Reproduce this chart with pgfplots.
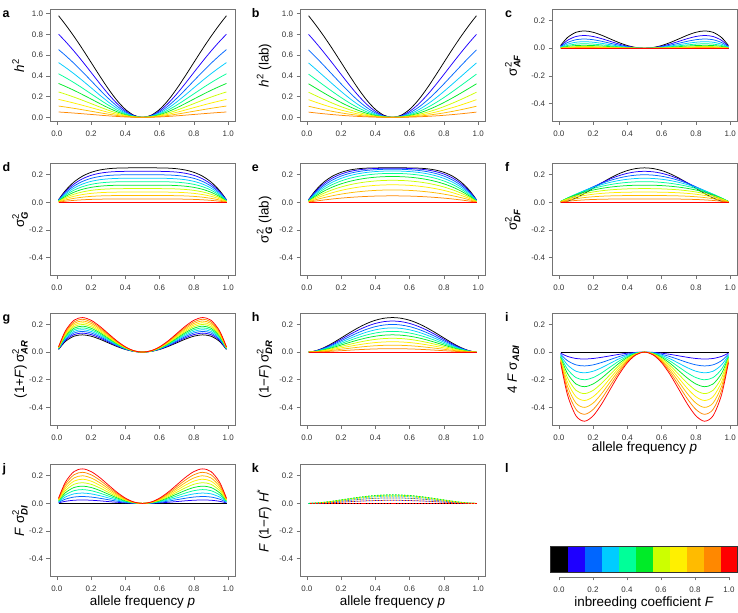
\documentclass[border=0pt]{standalone}
\usepackage{fontspec}
\setmainfont{Liberation Sans}
\usepackage{amsmath}
\usepackage{pgfplots}
\usepackage{pgfplotstable}
\pgfplotsset{compat=1.18}

\definecolor{cF0}{RGB}{0,0,0}
\definecolor{cF1}{RGB}{30,0,255}
\definecolor{cF2}{RGB}{0,102,255}
\definecolor{cF3}{RGB}{0,204,255}
\definecolor{cF4}{RGB}{0,255,153}
\definecolor{cF5}{RGB}{0,235,40}
\definecolor{cF6}{RGB}{204,255,0}
\definecolor{cF7}{RGB}{255,240,0}
\definecolor{cF8}{RGB}{255,187,0}
\definecolor{cF9}{RGB}{255,136,0}
\definecolor{cF10}{RGB}{255,0,0}

% h^2
\pgfplotstableread{
p c0 c1 c2 c3 c4 c5 c6 c7 c8 c9
0.01 0.9798 0.8016 0.6532 0.5276 0.4199 0.3266 0.2450 0.1729 0.1089 0.0516
0.05 0.8950 0.7323 0.5967 0.4819 0.3836 0.2983 0.2238 0.1579 0.0994 0.0471
0.10 0.7805 0.6386 0.5203 0.4203 0.3345 0.2602 0.1951 0.1377 0.0867 0.0411
0.15 0.6577 0.5381 0.4385 0.3542 0.2819 0.2192 0.1644 0.1161 0.0731 0.0346
0.20 0.5294 0.4332 0.3529 0.2851 0.2269 0.1765 0.1324 0.0934 0.0588 0.0279
0.25 0.4000 0.3273 0.2667 0.2154 0.1714 0.1333 0.1000 0.0706 0.0444 0.0211
0.30 0.2759 0.2257 0.1839 0.1486 0.1182 0.0920 0.0690 0.0487 0.0307 0.0145
0.35 0.1651 0.1351 0.1101 0.0889 0.0708 0.0550 0.0413 0.0291 0.0183 0.0087
0.40 0.0769 0.0629 0.0513 0.0414 0.0330 0.0256 0.0192 0.0136 0.0085 0.0040
0.45 0.0198 0.0162 0.0132 0.0107 0.0085 0.0066 0.0050 0.0035 0.0022 0.0010
0.50 0 0 0 0 0 0 0 0 0 0
0.55 0.0198 0.0162 0.0132 0.0107 0.0085 0.0066 0.0050 0.0035 0.0022 0.0010
0.60 0.0769 0.0629 0.0513 0.0414 0.0330 0.0256 0.0192 0.0136 0.0085 0.0040
0.65 0.1651 0.1351 0.1101 0.0889 0.0708 0.0550 0.0413 0.0291 0.0183 0.0087
0.70 0.2759 0.2257 0.1839 0.1486 0.1182 0.0920 0.0690 0.0487 0.0307 0.0145
0.75 0.4000 0.3273 0.2667 0.2154 0.1714 0.1333 0.1000 0.0706 0.0444 0.0211
0.80 0.5294 0.4332 0.3529 0.2851 0.2269 0.1765 0.1324 0.0934 0.0588 0.0279
0.85 0.6577 0.5381 0.4385 0.3542 0.2819 0.2192 0.1644 0.1161 0.0731 0.0346
0.90 0.7805 0.6386 0.5203 0.4203 0.3345 0.2602 0.1951 0.1377 0.0867 0.0411
0.95 0.8950 0.7323 0.5967 0.4819 0.3836 0.2983 0.2238 0.1579 0.0994 0.0471
0.99 0.9798 0.8016 0.6532 0.5276 0.4199 0.3266 0.2450 0.1729 0.1089 0.0516
}\tabA

% h^2 (lab)
\pgfplotstableread{
p c0 c1 c2 c3 c4 c5 c6 c7 c8 c9
0.01 0.9798 0.8000 0.6506 0.5244 0.4166 0.3233 0.2420 0.1705 0.1071 0.0506
0.05 0.8950 0.7247 0.5844 0.4672 0.3681 0.2835 0.2105 0.1471 0.0917 0.0430
0.10 0.7805 0.6249 0.4984 0.3943 0.3075 0.2344 0.1724 0.1194 0.0738 0.0343
0.15 0.6577 0.5203 0.4104 0.3212 0.2479 0.1872 0.1364 0.0936 0.0574 0.0265
0.20 0.5294 0.4137 0.3226 0.2498 0.1909 0.1429 0.1032 0.0703 0.0427 0.0196
0.25 0.4000 0.3087 0.2381 0.1825 0.1382 0.1026 0.0735 0.0497 0.0300 0.0137
0.30 0.2759 0.2105 0.1606 0.1220 0.0917 0.0675 0.0481 0.0323 0.0194 0.0088
0.35 0.1651 0.1247 0.0943 0.0711 0.0531 0.0388 0.0275 0.0184 0.0110 0.0050
0.40 0.0769 0.0576 0.0433 0.0324 0.0241 0.0175 0.0124 0.0082 0.0049 0.0022
0.45 0.0198 0.0148 0.0110 0.0082 0.0061 0.0044 0.0031 0.0021 0.0012 0.0006
0.50 0 0 0 0 0 0 0 0 0 0
0.55 0.0198 0.0148 0.0110 0.0082 0.0061 0.0044 0.0031 0.0021 0.0012 0.0006
0.60 0.0769 0.0576 0.0433 0.0324 0.0241 0.0175 0.0124 0.0082 0.0049 0.0022
0.65 0.1651 0.1247 0.0943 0.0711 0.0531 0.0388 0.0275 0.0184 0.0110 0.0050
0.70 0.2759 0.2105 0.1606 0.1220 0.0917 0.0675 0.0481 0.0323 0.0194 0.0088
0.75 0.4000 0.3087 0.2381 0.1825 0.1382 0.1026 0.0735 0.0497 0.0300 0.0137
0.80 0.5294 0.4137 0.3226 0.2498 0.1909 0.1429 0.1032 0.0703 0.0427 0.0196
0.85 0.6577 0.5203 0.4104 0.3212 0.2479 0.1872 0.1364 0.0936 0.0574 0.0265
0.90 0.7805 0.6249 0.4984 0.3943 0.3075 0.2344 0.1724 0.1194 0.0738 0.0343
0.95 0.8950 0.7247 0.5844 0.4672 0.3681 0.2835 0.2105 0.1471 0.0917 0.0430
0.99 0.9798 0.8000 0.6506 0.5244 0.4166 0.3233 0.2420 0.1705 0.1071 0.0506
}\tabB

% sigma^2_AF
\pgfplotstableread{
p c0 c1 c2 c3 c4 c5 c6 c7 c8 c9 c10
0.01 0.0190 0.0140 0.0101 0.0072 0.0049 0.0032 0.0019 0.0010 0.0004 0.0001 0
0.05 0.0770 0.0567 0.0410 0.0290 0.0198 0.0128 0.0077 0.0041 0.0017 0.0004 0
0.10 0.1152 0.0848 0.0614 0.0434 0.0296 0.0192 0.0115 0.0061 0.0026 0.0006 0
0.15 0.1250 0.0920 0.0666 0.0471 0.0321 0.0208 0.0125 0.0066 0.0028 0.0007 0
0.20 0.1152 0.0848 0.0614 0.0434 0.0296 0.0192 0.0115 0.0061 0.0026 0.0006 0
0.25 0.0938 0.0690 0.0500 0.0353 0.0241 0.0156 0.0094 0.0050 0.0021 0.0005 0
0.30 0.0672 0.0495 0.0358 0.0253 0.0173 0.0112 0.0067 0.0036 0.0015 0.0004 0
0.35 0.0410 0.0302 0.0218 0.0154 0.0105 0.0068 0.0041 0.0022 0.0009 0.0002 0
0.40 0.0192 0.0141 0.0102 0.0072 0.0049 0.0032 0.0019 0.0010 0.0004 0.0001 0
0.45 0.0050 0.0036 0.0026 0.0019 0.0013 0.0008 0.0005 0.0003 0.0001 0.0000 0
0.50 0 0 0 0 0 0 0 0 0 0 0
0.55 0.0050 0.0036 0.0026 0.0019 0.0013 0.0008 0.0005 0.0003 0.0001 0.0000 0
0.60 0.0192 0.0141 0.0102 0.0072 0.0049 0.0032 0.0019 0.0010 0.0004 0.0001 0
0.65 0.0410 0.0302 0.0218 0.0154 0.0105 0.0068 0.0041 0.0022 0.0009 0.0002 0
0.70 0.0672 0.0495 0.0358 0.0253 0.0173 0.0112 0.0067 0.0036 0.0015 0.0004 0
0.75 0.0938 0.0690 0.0500 0.0353 0.0241 0.0156 0.0094 0.0050 0.0021 0.0005 0
0.80 0.1152 0.0848 0.0614 0.0434 0.0296 0.0192 0.0115 0.0061 0.0026 0.0006 0
0.85 0.1250 0.0920 0.0666 0.0471 0.0321 0.0208 0.0125 0.0066 0.0028 0.0007 0
0.90 0.1152 0.0848 0.0614 0.0434 0.0296 0.0192 0.0115 0.0061 0.0026 0.0006 0
0.95 0.0770 0.0567 0.0410 0.0290 0.0198 0.0128 0.0077 0.0041 0.0017 0.0004 0
0.99 0.0190 0.0140 0.0101 0.0072 0.0049 0.0032 0.0019 0.0010 0.0004 0.0001 0
}\tabC

% sigma^2_G
\pgfplotstableread{
p c0 c1 c2 c3 c4 c5 c6 c7 c8 c9 c10
0.01 0.0194 0.0175 0.0155 0.0136 0.0116 0.0097 0.0078 0.0058 0.0039 0.0019 0
0.05 0.0860 0.0774 0.0688 0.0602 0.0516 0.0430 0.0344 0.0258 0.0172 0.0086 0
0.10 0.1476 0.1328 0.1181 0.1033 0.0886 0.0738 0.0590 0.0443 0.0295 0.0148 0
0.15 0.1900 0.1710 0.1520 0.1330 0.1140 0.0950 0.0760 0.0570 0.0380 0.0190 0
0.20 0.2176 0.1958 0.1741 0.1523 0.1306 0.1088 0.0870 0.0653 0.0435 0.0218 0
0.25 0.2344 0.2109 0.1875 0.1641 0.1406 0.1172 0.0938 0.0703 0.0469 0.0234 0
0.30 0.2436 0.2192 0.1949 0.1705 0.1462 0.1218 0.0974 0.0731 0.0487 0.0244 0
0.35 0.2480 0.2232 0.1984 0.1736 0.1488 0.1240 0.0992 0.0744 0.0496 0.0248 0
0.40 0.2496 0.2246 0.1997 0.1747 0.1498 0.1248 0.0998 0.0749 0.0499 0.0250 0
0.45 0.2500 0.2250 0.2000 0.1750 0.1500 0.1250 0.1000 0.0750 0.0500 0.0250 0
0.50 0.2500 0.2250 0.2000 0.1750 0.1500 0.1250 0.1000 0.0750 0.0500 0.0250 0
0.55 0.2500 0.2250 0.2000 0.1750 0.1500 0.1250 0.1000 0.0750 0.0500 0.0250 0
0.60 0.2496 0.2246 0.1997 0.1747 0.1498 0.1248 0.0998 0.0749 0.0499 0.0250 0
0.65 0.2480 0.2232 0.1984 0.1736 0.1488 0.1240 0.0992 0.0744 0.0496 0.0248 0
0.70 0.2436 0.2192 0.1949 0.1705 0.1462 0.1218 0.0974 0.0731 0.0487 0.0244 0
0.75 0.2344 0.2109 0.1875 0.1641 0.1406 0.1172 0.0938 0.0703 0.0469 0.0234 0
0.80 0.2176 0.1958 0.1741 0.1523 0.1306 0.1088 0.0870 0.0653 0.0435 0.0218 0
0.85 0.1900 0.1710 0.1520 0.1330 0.1140 0.0950 0.0760 0.0570 0.0380 0.0190 0
0.90 0.1476 0.1328 0.1181 0.1033 0.0886 0.0738 0.0590 0.0443 0.0295 0.0148 0
0.95 0.0860 0.0774 0.0688 0.0602 0.0516 0.0430 0.0344 0.0258 0.0172 0.0086 0
0.99 0.0194 0.0175 0.0155 0.0136 0.0116 0.0097 0.0078 0.0058 0.0039 0.0019 0
}\tabD

% sigma^2_G (lab)
\pgfplotstableread{
p c0 c1 c2 c3 c4 c5 c6 c7 c8 c9 c10
0.01 0.0194 0.0175 0.0156 0.0137 0.0117 0.0098 0.0079 0.0059 0.0039 0.0020 0
0.05 0.0860 0.0782 0.0702 0.0621 0.0538 0.0452 0.0366 0.0277 0.0186 0.0094 0
0.10 0.1476 0.1358 0.1233 0.1101 0.0963 0.0819 0.0668 0.0511 0.0347 0.0177 0
0.15 0.1900 0.1768 0.1624 0.1466 0.1296 0.1112 0.0916 0.0706 0.0484 0.0249 0
0.20 0.2176 0.2051 0.1905 0.1738 0.1551 0.1344 0.1116 0.0868 0.0599 0.0310 0
0.25 0.2344 0.2236 0.2100 0.1936 0.1744 0.1523 0.1275 0.0998 0.0694 0.0361 0
0.30 0.2436 0.2351 0.2231 0.2076 0.1885 0.1659 0.1398 0.1101 0.0769 0.0402 0
0.35 0.2480 0.2418 0.2315 0.2171 0.1985 0.1757 0.1489 0.1179 0.0827 0.0434 0
0.40 0.2496 0.2454 0.2365 0.2231 0.2051 0.1824 0.1551 0.1233 0.0868 0.0457 0
0.45 0.2500 0.2470 0.2392 0.2264 0.2088 0.1862 0.1588 0.1264 0.0892 0.0471 0
0.50 0.2500 0.2475 0.2400 0.2275 0.2100 0.1875 0.1600 0.1275 0.0900 0.0475 0
0.55 0.2500 0.2470 0.2392 0.2264 0.2088 0.1862 0.1588 0.1264 0.0892 0.0471 0
0.60 0.2496 0.2454 0.2365 0.2231 0.2051 0.1824 0.1551 0.1233 0.0868 0.0457 0
0.65 0.2480 0.2418 0.2315 0.2171 0.1985 0.1757 0.1489 0.1179 0.0827 0.0434 0
0.70 0.2436 0.2351 0.2231 0.2076 0.1885 0.1659 0.1398 0.1101 0.0769 0.0402 0
0.75 0.2344 0.2236 0.2100 0.1936 0.1744 0.1523 0.1275 0.0998 0.0694 0.0361 0
0.80 0.2176 0.2051 0.1905 0.1738 0.1551 0.1344 0.1116 0.0868 0.0599 0.0310 0
0.85 0.1900 0.1768 0.1624 0.1466 0.1296 0.1112 0.0916 0.0706 0.0484 0.0249 0
0.90 0.1476 0.1358 0.1233 0.1101 0.0963 0.0819 0.0668 0.0511 0.0347 0.0177 0
0.95 0.0860 0.0782 0.0702 0.0621 0.0538 0.0452 0.0366 0.0277 0.0186 0.0094 0
0.99 0.0194 0.0175 0.0156 0.0137 0.0117 0.0098 0.0079 0.0059 0.0039 0.0020 0
}\tabE

% sigma^2_DF
\pgfplotstableread{
p c0 c1 c2 c3 c4 c5 c6 c7 c8 c9 c10
0.01 0.0004 0.0035 0.0054 0.0064 0.0068 0.0065 0.0059 0.0048 0.0035 0.0018 0
0.05 0.0090 0.0207 0.0277 0.0312 0.0318 0.0302 0.0267 0.0217 0.0155 0.0082 0
0.10 0.0324 0.0480 0.0566 0.0599 0.0589 0.0546 0.0475 0.0382 0.0270 0.0142 0
0.15 0.0650 0.0790 0.0853 0.0859 0.0819 0.0742 0.0635 0.0504 0.0352 0.0183 0
0.20 0.1024 0.1110 0.1126 0.1089 0.1009 0.0896 0.0755 0.0592 0.0410 0.0212 0
0.25 0.1406 0.1419 0.1375 0.1287 0.1165 0.1016 0.0844 0.0654 0.0448 0.0229 0
0.30 0.1764 0.1698 0.1590 0.1452 0.1289 0.1106 0.0907 0.0695 0.0472 0.0240 0
0.35 0.2070 0.1930 0.1765 0.1581 0.1383 0.1172 0.0951 0.0722 0.0487 0.0246 0
0.40 0.2304 0.2105 0.1894 0.1675 0.1448 0.1216 0.0979 0.0739 0.0495 0.0249 0
0.45 0.2450 0.2213 0.1973 0.1731 0.1487 0.1242 0.0995 0.0747 0.0499 0.0250 0
0.50 0.2500 0.2250 0.2000 0.1750 0.1500 0.1250 0.1000 0.0750 0.0500 0.0250 0
0.55 0.2450 0.2213 0.1973 0.1731 0.1487 0.1242 0.0995 0.0747 0.0499 0.0250 0
0.60 0.2304 0.2105 0.1894 0.1675 0.1448 0.1216 0.0979 0.0739 0.0495 0.0249 0
0.65 0.2070 0.1930 0.1765 0.1581 0.1383 0.1172 0.0951 0.0722 0.0487 0.0246 0
0.70 0.1764 0.1698 0.1590 0.1452 0.1289 0.1106 0.0907 0.0695 0.0472 0.0240 0
0.75 0.1406 0.1419 0.1375 0.1287 0.1165 0.1016 0.0844 0.0654 0.0448 0.0229 0
0.80 0.1024 0.1110 0.1126 0.1089 0.1009 0.0896 0.0755 0.0592 0.0410 0.0212 0
0.85 0.0650 0.0790 0.0853 0.0859 0.0819 0.0742 0.0635 0.0504 0.0352 0.0183 0
0.90 0.0324 0.0480 0.0566 0.0599 0.0589 0.0546 0.0475 0.0382 0.0270 0.0142 0
0.95 0.0090 0.0207 0.0277 0.0312 0.0318 0.0302 0.0267 0.0217 0.0155 0.0082 0
0.99 0.0004 0.0035 0.0054 0.0064 0.0068 0.0065 0.0059 0.0048 0.0035 0.0018 0
}\tabF

% (1+F) sigma^2_AR
\pgfplotstableread{
p c0 c1 c2 c3 c4 c5 c6 c7 c8 c9 c10
0.01 0.0190 0.0209 0.0228 0.0247 0.0266 0.0285 0.0304 0.0323 0.0342 0.0361 0.0380
0.05 0.0770 0.0846 0.0923 0.1000 0.1077 0.1154 0.1231 0.1308 0.1385 0.1462 0.1539
0.10 0.1152 0.1267 0.1382 0.1498 0.1613 0.1728 0.1843 0.1958 0.2074 0.2189 0.2304
0.15 0.1250 0.1374 0.1499 0.1624 0.1749 0.1874 0.1999 0.2124 0.2249 0.2374 0.2499
0.20 0.1152 0.1267 0.1382 0.1498 0.1613 0.1728 0.1843 0.1958 0.2074 0.2189 0.2304
0.25 0.0938 0.1031 0.1125 0.1219 0.1313 0.1406 0.1500 0.1594 0.1688 0.1781 0.1875
0.30 0.0672 0.0739 0.0806 0.0874 0.0941 0.1008 0.1075 0.1142 0.1210 0.1277 0.1344
0.35 0.0410 0.0450 0.0491 0.0532 0.0573 0.0614 0.0655 0.0696 0.0737 0.0778 0.0819
0.40 0.0192 0.0211 0.0230 0.0250 0.0269 0.0288 0.0307 0.0326 0.0346 0.0365 0.0384
0.45 0.0050 0.0054 0.0059 0.0064 0.0069 0.0074 0.0079 0.0084 0.0089 0.0094 0.0099
0.50 0 0 0 0 0 0 0 0 0 0 0
0.55 0.0050 0.0054 0.0059 0.0064 0.0069 0.0074 0.0079 0.0084 0.0089 0.0094 0.0099
0.60 0.0192 0.0211 0.0230 0.0250 0.0269 0.0288 0.0307 0.0326 0.0346 0.0365 0.0384
0.65 0.0410 0.0450 0.0491 0.0532 0.0573 0.0614 0.0655 0.0696 0.0737 0.0778 0.0819
0.70 0.0672 0.0739 0.0806 0.0874 0.0941 0.1008 0.1075 0.1142 0.1210 0.1277 0.1344
0.75 0.0938 0.1031 0.1125 0.1219 0.1313 0.1406 0.1500 0.1594 0.1688 0.1781 0.1875
0.80 0.1152 0.1267 0.1382 0.1498 0.1613 0.1728 0.1843 0.1958 0.2074 0.2189 0.2304
0.85 0.1250 0.1374 0.1499 0.1624 0.1749 0.1874 0.1999 0.2124 0.2249 0.2374 0.2499
0.90 0.1152 0.1267 0.1382 0.1498 0.1613 0.1728 0.1843 0.1958 0.2074 0.2189 0.2304
0.95 0.0770 0.0846 0.0923 0.1000 0.1077 0.1154 0.1231 0.1308 0.1385 0.1462 0.1539
0.99 0.0190 0.0209 0.0228 0.0247 0.0266 0.0285 0.0304 0.0323 0.0342 0.0361 0.0380
}\tabG

% (1-F) sigma^2_DR
\pgfplotstableread{
p c0 c1 c2 c3 c4 c5 c6 c7 c8 c9 c10
0.01 0.0004 0.0004 0.0003 0.0003 0.0002 0.0002 0.0002 0.0001 0.0001 0.0000 0
0.05 0.0090 0.0081 0.0072 0.0063 0.0054 0.0045 0.0036 0.0027 0.0018 0.0009 0
0.10 0.0324 0.0292 0.0259 0.0227 0.0194 0.0162 0.0130 0.0097 0.0065 0.0032 0
0.15 0.0650 0.0585 0.0520 0.0455 0.0390 0.0325 0.0260 0.0195 0.0130 0.0065 0
0.20 0.1024 0.0922 0.0819 0.0717 0.0614 0.0512 0.0410 0.0307 0.0205 0.0102 0
0.25 0.1406 0.1266 0.1125 0.0984 0.0844 0.0703 0.0563 0.0422 0.0281 0.0141 0
0.30 0.1764 0.1588 0.1411 0.1235 0.1058 0.0882 0.0706 0.0529 0.0353 0.0176 0
0.35 0.2070 0.1863 0.1656 0.1449 0.1242 0.1035 0.0828 0.0621 0.0414 0.0207 0
0.40 0.2304 0.2074 0.1843 0.1613 0.1382 0.1152 0.0922 0.0691 0.0461 0.0230 0
0.45 0.2450 0.2205 0.1960 0.1715 0.1470 0.1225 0.0980 0.0735 0.0490 0.0245 0
0.50 0.2500 0.2250 0.2000 0.1750 0.1500 0.1250 0.1000 0.0750 0.0500 0.0250 0
0.55 0.2450 0.2205 0.1960 0.1715 0.1470 0.1225 0.0980 0.0735 0.0490 0.0245 0
0.60 0.2304 0.2074 0.1843 0.1613 0.1382 0.1152 0.0922 0.0691 0.0461 0.0230 0
0.65 0.2070 0.1863 0.1656 0.1449 0.1242 0.1035 0.0828 0.0621 0.0414 0.0207 0
0.70 0.1764 0.1588 0.1411 0.1235 0.1058 0.0882 0.0706 0.0529 0.0353 0.0176 0
0.75 0.1406 0.1266 0.1125 0.0984 0.0844 0.0703 0.0563 0.0422 0.0281 0.0141 0
0.80 0.1024 0.0922 0.0819 0.0717 0.0614 0.0512 0.0410 0.0307 0.0205 0.0102 0
0.85 0.0650 0.0585 0.0520 0.0455 0.0390 0.0325 0.0260 0.0195 0.0130 0.0065 0
0.90 0.0324 0.0292 0.0259 0.0227 0.0194 0.0162 0.0130 0.0097 0.0065 0.0032 0
0.95 0.0090 0.0081 0.0072 0.0063 0.0054 0.0045 0.0036 0.0027 0.0018 0.0009 0
0.99 0.0004 0.0004 0.0003 0.0003 0.0002 0.0002 0.0002 0.0001 0.0001 0.0000 0
}\tabH

% 4 F sigma_ADI
\pgfplotstableread{
p c0 c1 c2 c3 c4 c5 c6 c7 c8 c9 c10
0.01 0 -0.0076 -0.0152 -0.0228 -0.0304 -0.0380 -0.0456 -0.0532 -0.0609 -0.0685 -0.0761
0.05 0 -0.0308 -0.0616 -0.0923 -0.1231 -0.1539 -0.1847 -0.2155 -0.2462 -0.2770 -0.3078
0.10 0 -0.0461 -0.0922 -0.1382 -0.1843 -0.2304 -0.2765 -0.3226 -0.3686 -0.4147 -0.4608
0.15 0 -0.0500 -0.1000 -0.1499 -0.1999 -0.2499 -0.2999 -0.3499 -0.3998 -0.4498 -0.4998
0.20 0 -0.0461 -0.0922 -0.1382 -0.1843 -0.2304 -0.2765 -0.3226 -0.3686 -0.4147 -0.4608
0.25 0 -0.0375 -0.0750 -0.1125 -0.1500 -0.1875 -0.2250 -0.2625 -0.3000 -0.3375 -0.3750
0.30 0 -0.0269 -0.0538 -0.0806 -0.1075 -0.1344 -0.1613 -0.1882 -0.2150 -0.2419 -0.2688
0.35 0 -0.0164 -0.0328 -0.0491 -0.0655 -0.0819 -0.0983 -0.1147 -0.1310 -0.1474 -0.1638
0.40 0 -0.0077 -0.0154 -0.0230 -0.0307 -0.0384 -0.0461 -0.0538 -0.0614 -0.0691 -0.0768
0.45 0 -0.0020 -0.0040 -0.0059 -0.0079 -0.0099 -0.0119 -0.0139 -0.0158 -0.0178 -0.0198
0.50 0 0 0 0 0 0 0 0 0 0 0
0.55 0 -0.0020 -0.0040 -0.0059 -0.0079 -0.0099 -0.0119 -0.0139 -0.0158 -0.0178 -0.0198
0.60 0 -0.0077 -0.0154 -0.0230 -0.0307 -0.0384 -0.0461 -0.0538 -0.0614 -0.0691 -0.0768
0.65 0 -0.0164 -0.0328 -0.0491 -0.0655 -0.0819 -0.0983 -0.1147 -0.1310 -0.1474 -0.1638
0.70 0 -0.0269 -0.0538 -0.0806 -0.1075 -0.1344 -0.1613 -0.1882 -0.2150 -0.2419 -0.2688
0.75 0 -0.0375 -0.0750 -0.1125 -0.1500 -0.1875 -0.2250 -0.2625 -0.3000 -0.3375 -0.3750
0.80 0 -0.0461 -0.0922 -0.1382 -0.1843 -0.2304 -0.2765 -0.3226 -0.3686 -0.4147 -0.4608
0.85 0 -0.0500 -0.1000 -0.1499 -0.1999 -0.2499 -0.2999 -0.3499 -0.3998 -0.4498 -0.4998
0.90 0 -0.0461 -0.0922 -0.1382 -0.1843 -0.2304 -0.2765 -0.3226 -0.3686 -0.4147 -0.4608
0.95 0 -0.0308 -0.0616 -0.0923 -0.1231 -0.1539 -0.1847 -0.2155 -0.2462 -0.2770 -0.3078
0.99 0 -0.0076 -0.0152 -0.0228 -0.0304 -0.0380 -0.0456 -0.0532 -0.0609 -0.0685 -0.0761
}\tabI

% F sigma^2_DI
\pgfplotstableread{
p c0 c1 c2 c3 c4 c5 c6 c7 c8 c9 c10
0.01 0 0.0038 0.0076 0.0114 0.0152 0.0190 0.0228 0.0266 0.0304 0.0342 0.0380
0.05 0 0.0154 0.0308 0.0462 0.0616 0.0770 0.0923 0.1077 0.1231 0.1385 0.1539
0.10 0 0.0230 0.0461 0.0691 0.0922 0.1152 0.1382 0.1613 0.1843 0.2074 0.2304
0.15 0 0.0250 0.0500 0.0750 0.1000 0.1250 0.1499 0.1749 0.1999 0.2249 0.2499
0.20 0 0.0230 0.0461 0.0691 0.0922 0.1152 0.1382 0.1613 0.1843 0.2074 0.2304
0.25 0 0.0188 0.0375 0.0563 0.0750 0.0938 0.1125 0.1313 0.1500 0.1688 0.1875
0.30 0 0.0134 0.0269 0.0403 0.0538 0.0672 0.0806 0.0941 0.1075 0.1210 0.1344
0.35 0 0.0082 0.0164 0.0246 0.0328 0.0410 0.0491 0.0573 0.0655 0.0737 0.0819
0.40 0 0.0038 0.0077 0.0115 0.0154 0.0192 0.0230 0.0269 0.0307 0.0346 0.0384
0.45 0 0.0010 0.0020 0.0030 0.0040 0.0050 0.0059 0.0069 0.0079 0.0089 0.0099
0.50 0 0 0 0 0 0 0 0 0 0 0
0.55 0 0.0010 0.0020 0.0030 0.0040 0.0050 0.0059 0.0069 0.0079 0.0089 0.0099
0.60 0 0.0038 0.0077 0.0115 0.0154 0.0192 0.0230 0.0269 0.0307 0.0346 0.0384
0.65 0 0.0082 0.0164 0.0246 0.0328 0.0410 0.0491 0.0573 0.0655 0.0737 0.0819
0.70 0 0.0134 0.0269 0.0403 0.0538 0.0672 0.0806 0.0941 0.1075 0.1210 0.1344
0.75 0 0.0188 0.0375 0.0563 0.0750 0.0938 0.1125 0.1313 0.1500 0.1688 0.1875
0.80 0 0.0230 0.0461 0.0691 0.0922 0.1152 0.1382 0.1613 0.1843 0.2074 0.2304
0.85 0 0.0250 0.0500 0.0750 0.1000 0.1250 0.1499 0.1749 0.1999 0.2249 0.2499
0.90 0 0.0230 0.0461 0.0691 0.0922 0.1152 0.1382 0.1613 0.1843 0.2074 0.2304
0.95 0 0.0154 0.0308 0.0462 0.0616 0.0770 0.0923 0.1077 0.1231 0.1385 0.1539
0.99 0 0.0038 0.0076 0.0114 0.0152 0.0190 0.0228 0.0266 0.0304 0.0342 0.0380
}\tabJ

% F (1-F) H*
\pgfplotstableread{
p c0 c1 c2 c3 c4 c5 c6 c7 c8 c9 c10
0.01 0 0.0000 0.0001 0.0001 0.0001 0.0001 0.0001 0.0001 0.0001 0.0000 0
0.05 0 0.0008 0.0014 0.0019 0.0022 0.0023 0.0022 0.0019 0.0014 0.0008 0
0.10 0 0.0029 0.0052 0.0068 0.0078 0.0081 0.0078 0.0068 0.0052 0.0029 0
0.15 0 0.0059 0.0104 0.0137 0.0156 0.0163 0.0156 0.0137 0.0104 0.0059 0
0.20 0 0.0092 0.0164 0.0215 0.0246 0.0256 0.0246 0.0215 0.0164 0.0092 0
0.25 0 0.0127 0.0225 0.0295 0.0338 0.0352 0.0338 0.0295 0.0225 0.0127 0
0.30 0 0.0159 0.0282 0.0370 0.0423 0.0441 0.0423 0.0370 0.0282 0.0159 0
0.35 0 0.0186 0.0331 0.0435 0.0497 0.0518 0.0497 0.0435 0.0331 0.0186 0
0.40 0 0.0207 0.0369 0.0484 0.0553 0.0576 0.0553 0.0484 0.0369 0.0207 0
0.45 0 0.0221 0.0392 0.0515 0.0588 0.0613 0.0588 0.0515 0.0392 0.0221 0
0.50 0 0.0225 0.0400 0.0525 0.0600 0.0625 0.0600 0.0525 0.0400 0.0225 0
0.55 0 0.0221 0.0392 0.0515 0.0588 0.0613 0.0588 0.0515 0.0392 0.0221 0
0.60 0 0.0207 0.0369 0.0484 0.0553 0.0576 0.0553 0.0484 0.0369 0.0207 0
0.65 0 0.0186 0.0331 0.0435 0.0497 0.0518 0.0497 0.0435 0.0331 0.0186 0
0.70 0 0.0159 0.0282 0.0370 0.0423 0.0441 0.0423 0.0370 0.0282 0.0159 0
0.75 0 0.0127 0.0225 0.0295 0.0338 0.0352 0.0338 0.0295 0.0225 0.0127 0
0.80 0 0.0092 0.0164 0.0215 0.0246 0.0256 0.0246 0.0215 0.0164 0.0092 0
0.85 0 0.0059 0.0104 0.0137 0.0156 0.0163 0.0156 0.0137 0.0104 0.0059 0
0.90 0 0.0029 0.0052 0.0068 0.0078 0.0081 0.0078 0.0068 0.0052 0.0029 0
0.95 0 0.0008 0.0014 0.0019 0.0022 0.0023 0.0022 0.0019 0.0014 0.0008 0
0.99 0 0.0000 0.0001 0.0001 0.0001 0.0001 0.0001 0.0001 0.0001 0.0000 0
}\tabK

\pgfplotsset{
  panel/.style={
    scale only axis, width=185bp, height=112bp,
    xmin=-0.04, xmax=1.04, ymin=-0.53, ymax=0.28,
    xtick={0,0.2,0.4,0.6,0.8,1},
    ytick={-0.4,-0.2,0,0.2},
    tick align=outside, tick pos=left,
    major tick length=3.5bp,
    axis line style={draw=black!55, line width=0.7bp},
    tick style={draw=black!55, line width=0.6bp},
    tick label style={font=\fontsize{8}{9}\selectfont, text=black!80},
    xticklabel style={yshift=-2.5bp},
    /pgf/number format/.cd, fixed, fixed zerofill, precision=1, assume math mode=true,
    /pgfplots/.cd,
    label style={font=\fontsize{13.5}{15}\selectfont},
    ylabel style={anchor=base},
    xlabel style={at={(axis description cs:0.5,-0.255)}, anchor=base},
    every axis plot/.append style={line width=0.75bp, smooth},
  },
  hpanel/.style={panel, ymin=-0.04, ymax=1.04, ytick={0,0.2,0.4,0.6,0.8,1}},
  col1/.style={ylabel style={at={(axis description cs:-0.14,0.5)}}},
  col2/.style={ylabel style={at={(axis description cs:-0.17,0.5)}}},
  col3/.style={ylabel style={at={(axis description cs:-0.19,0.5)}}},
}

\newcommand{\sq}[1]{\text{σ}^{\text{2}}_{\textbf{\textit{#1}}}}
\newcommand{\letter}[2]{\node[anchor=base west, inner sep=0pt, font=\fontsize{12.5}{13}\bfseries] at #1 {#2};}

\begin{document}
\begin{tikzpicture}[x=1bp, y=1bp]
\useasboundingbox (0,0) rectangle (738,613);

% row 1
\begin{axis}[hpanel, col1, at={(50bp,491.5bp)}, anchor=south west, ylabel={\textit{h}\textsuperscript{2}}]
\pgfplotsinvokeforeach{0,...,9}{\addplot[color=cF#1] table[x=p, y=c#1] {\tabA};}
\end{axis}
\begin{axis}[hpanel, col2, at={(300bp,491.5bp)}, anchor=south west, ylabel={\textit{h}\textsuperscript{2} (lab)}]
\pgfplotsinvokeforeach{0,...,9}{\addplot[color=cF#1] table[x=p, y=c#1] {\tabB};}
\end{axis}
\begin{axis}[panel, col3, at={(552bp,491.5bp)}, anchor=south west, ylabel={$\sq{AF}$}]
\pgfplotsinvokeforeach{0,...,10}{\addplot[color=cF#1] table[x=p, y=c#1] {\tabC};}
\end{axis}

% row 2
\begin{axis}[panel, col1, at={(50bp,337.3bp)}, anchor=south west, ylabel={$\sq{G}$}]
\pgfplotsinvokeforeach{0,...,10}{\addplot[color=cF#1] table[x=p, y=c#1] {\tabD};}
\end{axis}
\begin{axis}[panel, col2, at={(300bp,337.3bp)}, anchor=south west, ylabel={$\sq{G}$ (lab)}]
\pgfplotsinvokeforeach{0,...,10}{\addplot[color=cF#1] table[x=p, y=c#1] {\tabE};}
\end{axis}
\begin{axis}[panel, col3, at={(552bp,337.3bp)}, anchor=south west, ylabel={$\sq{DF}$}]
\pgfplotsinvokeforeach{0,...,10}{\addplot[color=cF#1] table[x=p, y=c#1] {\tabF};}
\end{axis}

% row 3
\begin{axis}[panel, col1, at={(50bp,187.6bp)}, anchor=south west, ylabel={(1+\textit{F})\,$\sq{AR}$}]
\pgfplotsinvokeforeach{0,...,10}{\addplot[color=cF#1] table[x=p, y=c#1] {\tabG};}
\end{axis}
\begin{axis}[panel, col2, at={(300bp,187.6bp)}, anchor=south west, ylabel={(1−\textit{F})\,$\sq{DR}$}]
\pgfplotsinvokeforeach{0,...,10}{\addplot[color=cF#1] table[x=p, y=c#1] {\tabH};}
\end{axis}
\begin{axis}[panel, col3, at={(552bp,187.6bp)}, anchor=south west,
  ylabel={4 \textit{F} $\text{σ}_{\textbf{\textit{ADI}}}$}, xlabel={allele frequency \textit{p}},
  xlabel style={at={(axis description cs:0.5,-0.235)}}]
\pgfplotsinvokeforeach{0,...,10}{\addplot[color=cF#1] table[x=p, y=c#1] {\tabI};}
\end{axis}

% row 4
\begin{axis}[panel, col1, at={(50bp,36.3bp)}, anchor=south west,
  ylabel={\textit{F} $\sq{DI}$}, xlabel={allele frequency \textit{p}}]
\pgfplotsinvokeforeach{0,...,10}{\addplot[color=cF#1] table[x=p, y=c#1] {\tabJ};}
\end{axis}
\begin{axis}[panel, col2, at={(300bp,36.3bp)}, anchor=south west,
  ylabel={\textit{F} (1−\textit{F}) \textit{H}\textsuperscript{*}}, xlabel={allele frequency \textit{p}}]
\pgfplotsinvokeforeach{0,...,5}{\addplot[color=cF#1, dash pattern=on 1.5bp off 1.5bp] table[x=p, y=c#1] {\tabK};}
\pgfplotsinvokeforeach{6,...,10}{\addplot[color=cF#1, dash pattern=on 1.5bp off 1.5bp, dash phase=1.5bp] table[x=p, y=c#1] {\tabK};}
\end{axis}

% colour key
\begin{axis}[scale only axis, width=187bp, height=31bp, at={(550.5bp,36bp)}, anchor=south west,
  xmin=-0.05, xmax=1.05, ymin=-0.16, ymax=1,
  axis y line=none, axis x line*=bottom, x axis line style={draw=none},
  xtick={0,0.2,0.4,0.6,0.8,1}, tick align=outside, major tick length=3.5bp,
  tick style={draw=black!55, line width=0.6bp},
  tick label style={font=\fontsize{8}{9}\selectfont, text=black!80},
  xticklabel style={yshift=-2.5bp},
  /pgf/number format/.cd, fixed, fixed zerofill, precision=1, assume math mode=true, /pgfplots/.cd,
  xlabel={inbreeding coefficient \textit{F}},
  xlabel style={font=\fontsize{13.5}{15}\selectfont, at={(axis description cs:0.5,-0.95)}, anchor=base},
  clip=false]
\addplot[fill=cF0, draw=none] coordinates {(-0.05,0) (0.05,0) (0.05,1) (-0.05,1)};
\addplot[fill=cF1, draw=none] coordinates {(0.05,0) (0.15,0) (0.15,1) (0.05,1)};
\addplot[fill=cF2, draw=none] coordinates {(0.15,0) (0.25,0) (0.25,1) (0.15,1)};
\addplot[fill=cF3, draw=none] coordinates {(0.25,0) (0.35,0) (0.35,1) (0.25,1)};
\addplot[fill=cF4, draw=none] coordinates {(0.35,0) (0.45,0) (0.45,1) (0.35,1)};
\addplot[fill=cF5, draw=none] coordinates {(0.45,0) (0.55,0) (0.55,1) (0.45,1)};
\addplot[fill=cF6, draw=none] coordinates {(0.55,0) (0.65,0) (0.65,1) (0.55,1)};
\addplot[fill=cF7, draw=none] coordinates {(0.65,0) (0.75,0) (0.75,1) (0.65,1)};
\addplot[fill=cF8, draw=none] coordinates {(0.75,0) (0.85,0) (0.85,1) (0.75,1)};
\addplot[fill=cF9, draw=none] coordinates {(0.85,0) (0.95,0) (0.95,1) (0.85,1)};
\addplot[fill=cF10, draw=none] coordinates {(0.95,0) (1.05,0) (1.05,1) (0.95,1)};
\addplot[draw=black!80, line width=0.6bp] coordinates {(-0.05,0) (1.05,0) (1.05,1) (-0.05,1) (-0.05,0)};
\addplot[draw=black!55, line width=0.7bp] coordinates {(0,-0.16) (1,-0.16)};
\end{axis}

% panel letters
\letter{(2.5,595.5)}{a}
\letter{(251.7,595.5)}{b}
\letter{(505,595.5)}{c}
\letter{(2.5,441.3)}{d}
\letter{(251.7,441.3)}{e}
\letter{(505,441.3)}{f}
\letter{(2.5,291.6)}{g}
\letter{(251.7,291.6)}{h}
\letter{(505,291.6)}{i}
\letter{(2.5,140.3)}{j}
\letter{(251.7,140.3)}{k}
\letter{(505,140.3)}{l}
\end{tikzpicture}
\end{document}
